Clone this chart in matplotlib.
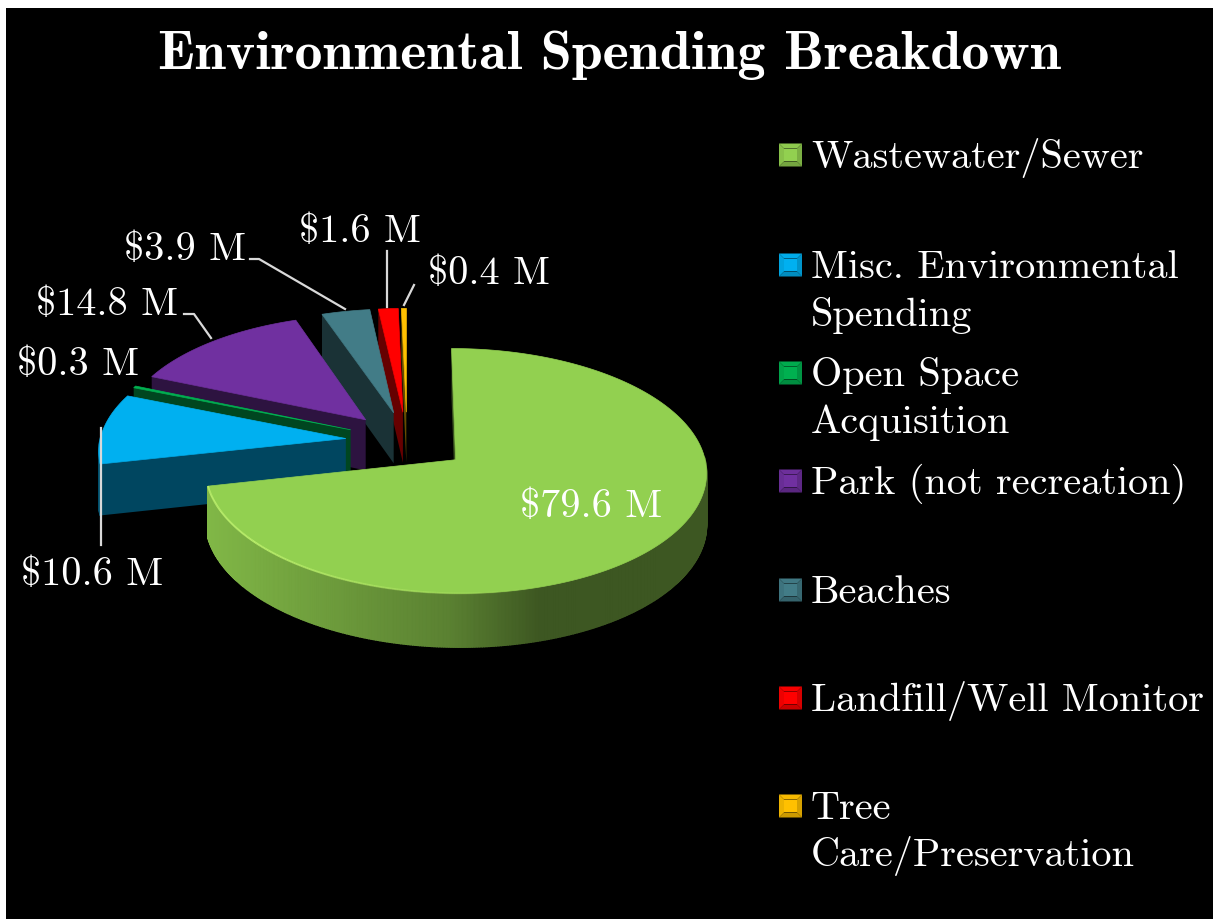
import matplotlib
matplotlib.use("Agg")
import matplotlib.pyplot as plt
from matplotlib.patches import Polygon, Rectangle
import matplotlib.colors as mcolors
import numpy as np

categories = ['Wastewater/Sewer', 'Misc. Environmental\nSpending', 'Open Space\nAcquisition',
              'Park (not recreation)', 'Beaches', 'Landfill/Well Monitor', 'Tree\nCare/Preservation']
spending = [79.6, 10.6, 0.3, 14.8, 3.9, 1.6, 0.4]
slice_colors = ['#92D050', '#00B0F0', '#00B050', '#7030A0', '#427C87', '#FF0000', '#FFC000']

# projection of the tilted pie onto the canvas (pixels)
X0, Y0 = 407, 441
RX, RY = 246, 118
PERSP = 0.09
EXPLODE = 0.25
DEPTH = 51
SERIF = ['cmr10', 'Liberation Serif']
SERIF_BOLD = ['cmb10', 'Liberation Serif']


def project(u, v, drop=0):
    d = 1 + PERSP * v
    return X0 + RX * u / d, Y0 - RY * v / d + drop * DEPTH / d ** 0.5


def shade(color, k):
    return tuple(c * k for c in mcolors.to_rgb(color))


def draw_slice(ax, a0, a1, color, zorder):
    # a0 > a1, clockwise sweep in degrees
    mid = np.radians((a0 + a1) / 2)
    cu, cv = EXPLODE * np.cos(mid), EXPLODE * np.sin(mid)
    th = np.radians(np.linspace(a0, a1, max(int(abs(a0 - a1) * 2), 4)))
    u = cu + np.cos(th)
    v = cv + np.sin(th)
    big = color == slice_colors[0]

    # flat wall along the leading edge of the slice
    ex, ey = project(u[0], v[0])
    ex2, ey2 = project(u[0], v[0], 1)
    ax0, ay0 = project(cu, cv)
    ax2, ay2 = project(cu, cv, 1)
    ax.add_patch(Polygon([(ax0, ay0), (ex, ey), (ex2, ey2), (ax2, ay2)], closed=True,
                         fc=shade(color, 0.4), ec='none', zorder=zorder))

    # curved outer wall, only where it faces the viewer
    for i in range(len(th) - 1):
        if np.sin(th[i]) > 0.02 and np.sin(th[i + 1]) > 0.02:
            continue
        x1, y1 = project(u[i], v[i])
        x2, y2 = project(u[i + 1], v[i + 1])
        x3, y3 = project(u[i + 1], v[i + 1], 1)
        x4, y4 = project(u[i], v[i], 1)
        k = np.interp(x1, [208, 300, 450, 540, 708], [0.88, 0.78, 0.62, 0.42, 0.42]) if big else 0.45
        ax.add_patch(Polygon([(x1, y1), (x2, y2), (x3, y3), (x4, y4)], closed=True,
                             fc=shade(color, k), ec=shade(color, k), lw=1.0, zorder=zorder))

    # top face
    xs, ys = project(np.r_[cu, u], np.r_[cv, v])
    ax.add_patch(Polygon(np.c_[xs, ys], closed=True, fc=color, ec=color, lw=0.5, zorder=zorder + 0.5))

    # thin highlight along the front edge of the top face
    if big:
        for i in range(len(th) - 1):
            deg = np.degrees(th[i]) % 360
            if 190 < deg < 300:
                x1, y1 = project(u[i], v[i])
                x2, y2 = project(u[i + 1], v[i + 1])
                alpha = 0.9 * np.clip((290 - deg) / 70, 0, 1)
                ax.plot([x1, x2], [y1, y2], color='#BDF06E', lw=1.4, alpha=alpha, zorder=zorder + 0.6,
                        solid_capstyle='butt')


def bevel_marker(ax, x, y, size, color):
    m = size * 0.22
    l, r, t, b = x, x + size, y - size / 2, y + size / 2
    faces = [([(l, t), (r, t), (r - m, t + m), (l + m, t + m)], 0.97),
             ([(l, t), (l + m, t + m), (l + m, b - m), (l, b)], 0.93),
             ([(r, t), (r, b), (r - m, b - m), (r - m, t + m)], 0.84),
             ([(l, b), (l + m, b - m), (r - m, b - m), (r, b)], 0.8)]
    for pts, k in faces:
        ax.add_patch(Polygon(pts, closed=True, fc=shade(color, k), ec='none', zorder=5))
    ax.add_patch(Rectangle((l + m, t + m), size - 2 * m, size - 2 * m, fc=color, ec='none', zorder=5))


fig = plt.figure(figsize=(12.13, 9.19), dpi=100, facecolor='white')
ax = fig.add_axes([0, 0, 1, 1])
ax.set_xlim(0, 1213)
ax.set_ylim(919, 0)
ax.axis('off')
ax.add_patch(Rectangle((6, 8), 1207, 911, fc='black', ec='none', zorder=0))

total = sum(spending)
sweeps = [s / total * 360 for s in spending]
starts = 90 - np.r_[0, np.cumsum(sweeps)[:-1]]

# back slices first, the big front slice last
for i in range(len(spending) - 1, -1, -1):
    start = starts[i] % 360 if i else starts[i]
    draw_slice(ax, start, start - sweeps[i], slice_colors[i], 1 + (len(spending) - i))

ax.text(609, 55, 'Environmental Spending Breakdown', family=SERIF_BOLD, fontsize=40.3, color='white',
        ha='center', va='center', parse_math=False, zorder=6)

# data labels
label_pos = [(591, 507), (92, 575), (78, 365), (107, 305), (185, 250), (360, 232), (489, 274)]
for s, (lx, ly) in zip(spending, label_pos):
    ax.text(lx, ly, f'${s} M', family=SERIF, fontsize=29, color='white', ha='center', va='center',
            parse_math=False, zorder=20)

leaders = [([101, 101], [428, 545]), ([250, 259, 345], [259, 259, 309]), ([184, 194, 211], [314, 314, 338]),
           ([387, 387], [251, 307]), ([414, 404], [285, 305])]
for lx, ly in leaders:
    ax.plot(lx, ly, color='#D9D9D9', lw=1.6, zorder=19)

# legend column
legend_y = [155, 265, 373, 481, 590, 698, 806]
for name, color, y in zip(categories, slice_colors, legend_y):
    bevel_marker(ax, 779, y, 23, color)
    for j, line in enumerate(name.split('\n')):
        ax.text(811, y + 3 + j * 47, line, family=SERIF, fontsize=29, color='white', ha='left', va='center',
                parse_math=False, zorder=6)

plt.savefig('out.png', dpi=100, facecolor=fig.get_facecolor())
